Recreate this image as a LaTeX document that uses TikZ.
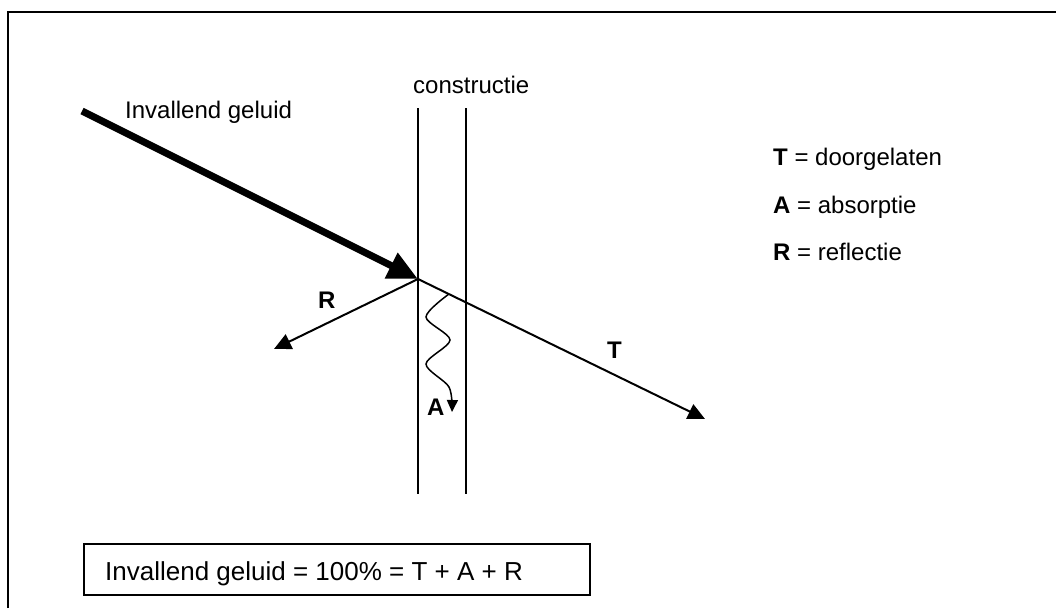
\documentclass[tikz,border=0pt]{standalone}
\usepackage{fontspec}
\setmainfont{Liberation Sans}
\usetikzlibrary{arrows.meta,positioning}

\begin{document}
\begin{tikzpicture}[x=1pt,y=-1pt,
  lbl/.style={font=\fontsize{24}{28}\selectfont,inner sep=0pt,anchor=base west},
  wall/.style={line width=2pt},
  ray/.style={line width=2pt,-{Triangle[length=17pt,width=16pt]}}]
  \useasboundingbox (0,0) rectangle (1056,608);
  % Frame
  \draw[line width=2.5pt] (8,608) -- (8,12) -- (1056,12);
  % Construction
  \coordinate (w1t) at (418,108);
  \coordinate (w1b) at (418,494);
  \coordinate (w2t) at (466,108);
  \coordinate (w2b) at (466,494);
  \draw[wall] (w1t) -- (w1b);
  \draw[wall] (w2t) -- (w2b);
  \node[lbl] (constr) at (413,93) {constructie};
  % Incident sound
  \coordinate (src) at (82,111);
  \coordinate (hit) at (418,279);
  \draw[line width=7pt,-{Triangle[length=30pt,width=27pt]}] (src) -- (hit);
  \node[lbl] (inval) at (125,118) {Invallend geluid};
  % Reflection and transmission
  \coordinate (rEnd) at (274,349);
  \coordinate (tEnd) at (705,419);
  \draw[ray] (hit) -- (rEnd);
  \draw[ray] (hit) -- (tEnd);
  \node[lbl] (lblR) at (318,308) {\textbf{R}};
  \node[lbl] (lblT) at (607,358) {\textbf{T}};
  % Absorption
  \coordinate (aStart) at (449,294);
  \coordinate (aEnd) at (452,412);
  \draw[line width=1.5pt,-{Triangle[length=12pt,width=11pt]}]
       plot[smooth] coordinates {(aStart) (426,317) (450,340) (426,364) (449,387) (aEnd)};
  \node[lbl] (lblA) at (427,415) {\textbf{A}};
  % Legend
  \node[lbl] (legT) at (773,165) {\textbf{T} = doorgelaten};
  \node[lbl] (legA) at (773,213) {\textbf{A} = absorptie};
  \node[lbl] (legR) at (773,260) {\textbf{R} = reflectie};
  % Sum
  \node[draw,line width=2pt,anchor=north west,inner sep=0pt,
        minimum width=506pt,minimum height=51pt] (fbox) at (83,543) {};
  \node[lbl,font=\fontsize{26}{30}\selectfont] (formula) at (105,580)
       {Invallend geluid = 100\% = T + A + R};
\end{tikzpicture}
\end{document}
